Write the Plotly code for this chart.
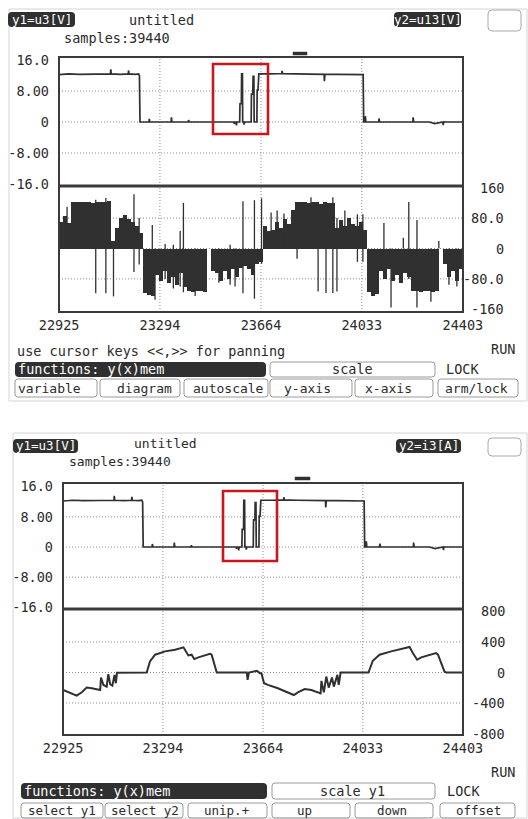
import plotly.graph_objects as go

W, H = 528, 819
MONO = "DejaVu Sans Mono"
TXT = "#2b2b2b"
DARK = "#303030"
GRID = "#8c8c8c"
RED = "#c8161d"

# ---------------- data ----------------
x_ticks = [22925, 23294, 23664, 24033, 24403]
x_tick_text = ["22925", "23294", "23664", "24033", "24403"]
y1_ticks = [16, 8, 0, -8, -16]
y1_tick_text = ["16.0", "8.00", "0", "-8.00", "-16.0"]
u13_ticks = [160, 80, 0, -80, -160]
u13_tick_text = ["160", "80.0", "0", "-80.0", "-160"]
i3_ticks = [800, 400, 0, -400, -800]
i3_tick_text = ["800", "400", "0", "-400", "-800"]

# u3 [V] (same signal in both screens)
u3_t = [22925, 22960, 23000, 23040, 23080, 23113, 23114, 23116, 23150, 23178, 23179, 23181, 23205, 23216, 23219, 23221,
        23254, 23255, 23257, 23335, 23336, 23338, 23398, 23399, 23401,
        23560, 23565, 23566, 23568, 23573, 23574, 23576, 23586, 23587, 23592, 23593, 23596, 23597,
        23601, 23602, 23604, 23628, 23629, 23634, 23635, 23638, 23639, 23649, 23650, 23653, 23656,
        23700, 23740, 23741, 23743, 23790, 23840, 23880, 23895, 23896, 23898, 23940, 23990, 24030, 24038, 24040,
        24045, 24046, 24048, 24095, 24096, 24098, 24220, 24221, 24223, 24280, 24300, 24330, 24331, 24333, 24403]
u3_v = [12.2, 12.4, 12.3, 12.4, 12.5, 12.4, 13.6, 12.4, 12.3, 12.4, 13.3, 12.4, 12.3, 12.4, 11.9, 0,
        0, 0.8, 0, 0, 1.2, 0, 0, 0.5, 0,
        0, 0, -0.5, 0, 0, -0.9, 0, 0, 4.7, 4.7, 12.4, 12.4, 0,
        0, -0.7, 0, 0, 7.2, 7.2, 11.8, 11.8, 0, 0, 8.2, 8.2, 12.4,
        12.4, 12.5, 13.2, 12.5, 12.4, 12.3, 12.4, 12.3, 10.5, 12.3, 12.3, 12.2, 12.3, 12.2, 0,
        0, 1.5, 0, 0, 0.9, 0, 0, 1.2, 0, 0, -0.4, 0, -0.8, 0, 0]

# u13 [V] : envelope of the switched signal, one value per sample bin
u13_t0 = 22925
u13_dt = 14.634
u13_fill = [70, 85, 66, 122, 122, 122, 123, 122, 121, 122, 122, 122, 125, 20,
            55, 80, 88, 78, 70, 60, 40,
            -118, -122, -125, -70, -85, -60, -90, -75, -95, -65, -100,
            -113, -115, -112, -113, -114, 0, -60,
            -65, -85, -60, -80, -55, -75, -50, -45, -55, -70, -40, -35,
            60, 45, 50, 70, 55, 78, 65, 100,
            122, 123, 122, 121, 122, 122,
            118, 122, 120, 120,
            55, 75, 60, 80, 65, 58, 70, 50,
            -115, -125, -120, -60, -80, -55, -85, -70, -90, -65, -75,
            -113, -112, -115, -113, -112, -114, -113, 0,
            -40, -75, -60, -85, -55]
# u13 spikes (time, top, bottom)
u13_spike_t = [22954, 23059, 23096, 23124, 23199, 23218, 23266, 23276, 23313, 23343, 23368, 23380, 23423, 23510,
               23551, 23569, 23598, 23640, 23666,
               23701, 23723, 23748, 23796, 23847, 23873, 23902, 23927, 23942, 23971, 24017, 24037, 24114, 24140,
               24185, 24205, 24235, 24286, 24315, 24352, 24381]
u13_spike_hi = [110, 128, 133, 0, 143, 80, 62, 0, 12, 10, 46, 120, 0, 0, 10, 0, 124, 127, 132,
                95, 100, 92, 0, 135, 122, 122, 135, 80, 100, 90, 90, 67, 0, 28, 122, 75, 0, 20, 0, 0]
u13_spike_lo = [0, -118, -118, -126, -62, -42, -120, -135, -80, -105, -100, -115, -125, -90, -95, -100, -118, -132, -40,
                0, 0, 0, -27, 0, -113, -117, -117, -113, 0, -35, -35, -70, -155, 0, -80, -155, -140, 0, -95, -100]

# i3 [A]
i3_t = [22925, 22951, 22975, 22994, 23012, 23031, 23055, 23062, 23065, 23074, 23086, 23092, 23099, 23107, 23115, 23120, 23124,
        23234, 23246, 23265, 23302, 23339, 23370, 23378, 23388, 23400, 23410, 23425, 23468, 23474, 23493,
        23604, 23607, 23612, 23641, 23653, 23658, 23668, 23682, 23719, 23756, 23778, 23793, 23818, 23843, 23867, 23877,
        23880, 23889, 23898, 23907, 23919, 23926, 23939, 23944, 23951,
        24054, 24070, 24095, 24138, 24206, 24218, 24234, 24249, 24304, 24311, 24335, 24341, 24403]
i3_v = [-229, -273, -304, -260, -198, -207, -229, -229, -66, -163, -185, -22, -154, -172, -31, -141, -4,
        0, 145, 233, 277, 299, 330, 277, 224, 233, 176, 198, 246, 233, 0,
        0, -97, 0, 22, -9, -9, -141, -163, -207, -260, -295, -260, -216, -229, -260, -273,
        -110, -260, -53, -198, -66, -185, -31, -163, 0,
        0, 154, 233, 277, 334, 255, 167, 198, 255, 233, 13, 0, 0]

# ---------------- helpers ----------------
def fx(px):
    return px / W


def fy(py):
    return 1 - py / H


shapes = []
annotations = []


def text(x, y, s, xanchor="left", color=TXT, size=13.5):
    annotations.append(dict(x=fx(x), y=fy(y), xref="paper", yref="paper", text=s, showarrow=False,
                            xanchor=xanchor, yanchor="middle", borderpad=0,
                            font=dict(family=MONO, size=size, color=color)))


def rrect(x0, y0, x1, y1, r, fill=None, line=None, lw=1.0):
    p = (f"M{fx(x0 + r)},{fy(y0)} L{fx(x1 - r)},{fy(y0)} Q{fx(x1)},{fy(y0)} {fx(x1)},{fy(y0 + r)} "
         f"L{fx(x1)},{fy(y1 - r)} Q{fx(x1)},{fy(y1)} {fx(x1 - r)},{fy(y1)} "
         f"L{fx(x0 + r)},{fy(y1)} Q{fx(x0)},{fy(y1)} {fx(x0)},{fy(y1 - r)} "
         f"L{fx(x0)},{fy(y0 + r)} Q{fx(x0)},{fy(y0)} {fx(x0 + r)},{fy(y0)} Z")
    shapes.append(dict(type="path", xref="paper", yref="paper", path=p,
                       fillcolor=fill if fill else "rgba(0,0,0,0)",
                       line=dict(color=line if line else "rgba(0,0,0,0)", width=lw), layer="above"))


def prect(x0, y0, x1, y1, color, width, fill=None):
    shapes.append(dict(type="rect", xref="paper", yref="paper", x0=fx(x0), x1=fx(x1), y0=fy(y1), y1=fy(y0),
                       line=dict(color=color, width=width), fillcolor=fill if fill else "rgba(0,0,0,0)",
                       layer="above"))


def pline(x0, y0, x1, y1, color, width):
    shapes.append(dict(type="line", xref="paper", yref="paper", x0=fx(x0), x1=fx(x1), y0=fy(y0), y1=fy(y1),
                       line=dict(color=color, width=width), layer="above"))


def grid(xa, ya, hvals):
    for v in hvals:
        shapes.append(dict(type="line", xref=f"{xa} domain", x0=0, x1=1, yref=ya, y0=v, y1=v,
                           line=dict(color=GRID, width=1, dash="1px,2px"), layer="below"))
    for t in x_ticks[1:-1]:
        shapes.append(dict(type="line", xref=xa, x0=t, x1=t, yref=f"{ya} domain", y0=0, y1=1,
                           line=dict(color=GRID, width=1, dash="1px,2px"), layer="below"))


# ---------------- geometry (pixels) ----------------
S1 = dict(l=59, r=463, t=57, m=186, b=312)
S2 = dict(l=63, r=463, t=483, m=609, b=735)

fig = go.Figure()

# traces
for xa, ya in (("x", "y"), ("x3", "y3")):
    fig.add_trace(go.Scatter(x=u3_t, y=u3_v, mode="lines", xaxis=xa, yaxis=ya,
                             line=dict(color=DARK, width=1.7), hoverinfo="skip"))

u13_x = [u13_t0 + u13_dt * (i + 0.5) for i in range(len(u13_fill))]
fig.add_trace(go.Bar(x=u13_x, y=u13_fill, width=u13_dt, xaxis="x2", yaxis="y2",
                     marker=dict(color=DARK, line=dict(width=0)), hoverinfo="skip"))
sx, sy = [], []
for t, hi, lo in zip(u13_spike_t, u13_spike_hi, u13_spike_lo):
    sx += [t, t, None]
    sy += [lo, hi, None]
fig.add_trace(go.Scatter(x=sx, y=sy, mode="lines", xaxis="x2", yaxis="y2",
                         line=dict(color=DARK, width=1.3), hoverinfo="skip", connectgaps=False))

fig.add_trace(go.Scatter(x=i3_t, y=i3_v, mode="lines", xaxis="x4", yaxis="y4",
                         line=dict(color=DARK, width=2), hoverinfo="skip"))

# axes
tf = dict(family=MONO, size=13.5, color=TXT)


def xax(S, anchor, labels):
    return dict(domain=[fx(S["l"]), fx(S["r"])], anchor=anchor, range=[22924.5, 24403.5],
                tickmode="array", tickvals=x_ticks, ticktext=x_tick_text, showticklabels=labels,
                showgrid=False, zeroline=False, showline=False, ticks="", tickfont=tf,
                ticklabelstandoff=3, fixedrange=True, automargin=False)


def yax(dom, anchor, rng, tv, tt, labels):
    return dict(domain=dom, anchor=anchor, range=rng, tickmode="array", tickvals=tv, ticktext=tt,
                showticklabels=labels, showgrid=False, zeroline=False, showline=False, ticks="",
                tickfont=tf, ticklabelstandoff=9, fixedrange=True, automargin=False)


layout = dict(
    width=W, height=H, autosize=False, margin=dict(l=0, r=0, t=0, b=0, pad=0),
    paper_bgcolor="white", plot_bgcolor="rgba(0,0,0,0)", showlegend=False, bargap=0,
    xaxis=xax(S1, "y", False),
    yaxis=yax([fy(S1["m"]), fy(S1["t"])], "x", [-16.52, 16.77], y1_ticks, y1_tick_text, True),
    xaxis2=xax(S1, "y2", True),
    yaxis2=yax([fy(S1["b"]), fy(S1["m"])], "x2", [-167, 164.4], u13_ticks, u13_tick_text, False),
    xaxis3=xax(S2, "y3", False),
    yaxis3=yax([fy(S2["m"]), fy(S2["t"])], "x3", [-16.45, 16.98], y1_ticks, y1_tick_text, True),
    xaxis4=xax(S2, "y4", True),
    yaxis4=yax([fy(S2["b"]), fy(S2["m"])], "x4", [-819, 832], i3_ticks, i3_tick_text, False),
)

# grids
grid("x", "y", [8, 0, -8])
grid("x2", "y2", [80, 0, -80])
grid("x3", "y3", [8, 0, -8])
grid("x4", "y4", [400, 0, -400])

# right-side tick labels (right aligned)
for v, s in zip(u13_ticks, u13_tick_text):
    annotations.append(dict(x=fx(506), y=v, xref="paper", yref="y2", text=s, showarrow=False,
                            xanchor="right", yanchor="middle", font=tf))
for v, s in zip(i3_ticks, i3_tick_text):
    annotations.append(dict(x=fx(507), y=v, xref="paper", yref="y4", text=s, showarrow=False,
                            xanchor="right", yanchor="middle", font=tf))

# screen frames
prect(9, 9, 527, 401, "#d4d4d4", 1)
prect(13, 433, 527, 818, "#d4d4d4", 1)

# plot frames
for S in (S1, S2):
    prect(S["l"], S["t"], S["r"], S["b"], "#3a3a3a", 2)
    pline(S["l"], S["m"], S["r"], S["m"], "#3a3a3a", 3.2)

# red highlight boxes
prect(213, 64, 268, 134, RED, 2.6)
prect(223, 491, 277, 561, RED, 2.6)

# ---------- screen 1 texts ----------
rrect(8, 12, 75, 27, 4, fill=DARK)
text(41.5, 19.5, "y1=u3[V]", "center", "white", 12.5)
text(128, 20, "untitled")
rrect(394, 12, 461, 27, 4, fill=DARK)
text(427.5, 19.5, "y2=u13[V]", "center", "white", 12.5)
rrect(488, 10, 521, 31, 4, line="#aaaaaa", lw=1)
text(63, 38, "samples:39440")
prect(293, 52, 307, 55, DARK, 0.5, fill=DARK)

text(16, 351, "use cursor keys &lt;&lt;,&gt;&gt; for panning")
text(516, 349, "RUN", "right")
rrect(15, 362, 266, 377, 4, fill=DARK)
text(17, 369.5, "functions: y(x)mem", "left", "white", 13.5)
rrect(270, 362, 435, 377, 3, line="#9a9a9a", lw=1)
text(352, 369.5, "scale", "center")
text(445, 369.5, "LOCK")
for x0, x1, s, cx in ((15, 97, "variable", 49), (100, 180, "diagram", 144), (184, 268, "autoscale", 228),
                      (270, 352, "y-axis", 307), (355, 433, "x-axis", 388), (438, 518, "arm/lock", 476)):
    rrect(x0, 379, x1, 397, 3, line="#9a9a9a", lw=1)
    text(cx, 388.5, s, "center", size=13)

# ---------- screen 2 texts ----------
rrect(13, 439, 78, 453, 4, fill=DARK)
text(45.5, 446, "y1=u3[V]", "center", "white", 12.5)
text(133, 444, "untitled", size=13)
rrect(396, 439, 461, 453, 4, fill=DARK)
text(428.5, 446, "y2=i3[A]", "center", "white", 12.5)
rrect(488, 438, 521, 456, 4, line="#aaaaaa", lw=1)
text(68, 461, "samples:39440", size=13)
prect(295, 477, 310, 480, DARK, 0.5, fill=DARK)

text(516, 772, "RUN", "right")
rrect(21, 783, 267, 799, 4, fill=DARK)
text(23, 791, "functions: y(x)mem", "left", "white", 13.5)
rrect(272, 783, 435, 799, 3, line="#9a9a9a", lw=1)
text(352, 791, "scale y1", "center")
text(446, 791, "LOCK")
for x0, x1, s, cx in ((21, 103, "select y1", 62), (105, 183, "select y2", 145), (188, 267, "unip.+", 226),
                      (272, 350, "up", 304), (355, 433, "down", 392), (440, 515, "offset", 478)):
    rrect(x0, 803, x1, 818, 3, line="#9a9a9a", lw=1)
    text(cx, 810.5, s, "center", size=12.5)

layout["shapes"] = shapes
layout["annotations"] = annotations
fig.update_layout(**layout)
fig.write_html("out.html", config={"displayModeBar": False, "staticPlot": True},
               post_script="document.body.style.margin='0px';document.body.style.padding='0px';")
